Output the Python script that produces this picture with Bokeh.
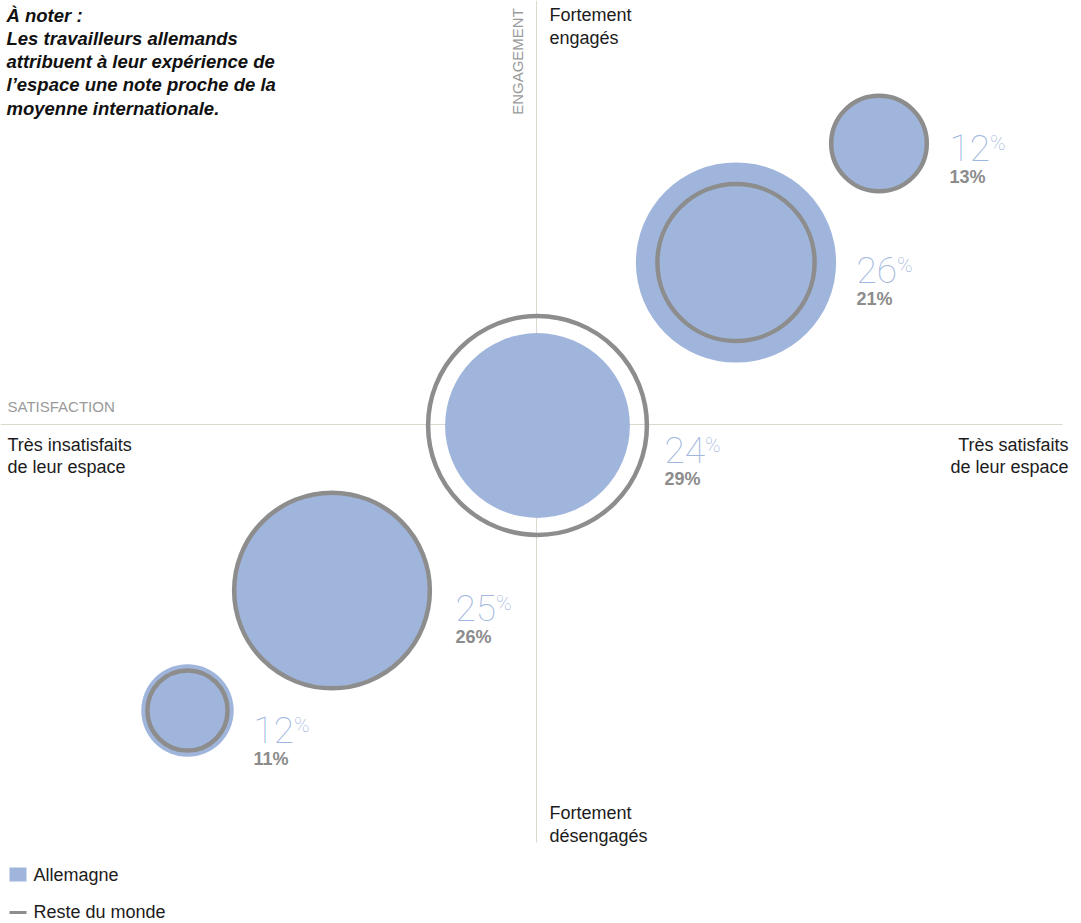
from bokeh.plotting import figure
from bokeh.models import Range1d
from bokeh.embed import file_html
from bokeh.resources import INLINE
from bokeh.core.properties import value

# ---------------- data ----------------
# position of each group on the two axes (satisfaction -> x, engagement -> y)
satisfaction = [-3.49, -2.045, 0.01, 1.995, 3.425]
engagement = [-2.86, -1.66, -0.01, 1.62, 2.81]
allemagne = [12, 25, 24, 26, 12]          # % Allemagne (filled bubble)
reste_du_monde = [11, 26, 29, 21, 13]     # % Reste du monde (grey ring)
series = ["Allemagne", "Reste du monde"]
axis_names = ["SATISFACTION", "ENGAGEMENT"]
sat_poles = ["Très insatisfaits\nde leur espace", "Très satisfaits\nde leur espace"]
eng_poles = ["Fortement\ndésengagés", "Fortement\nengagés"]
note = ["À noter :", "Les travailleurs allemands", "attribuent à leur expérience de",
        "l’espace une note proche de la", "moyenne internationale."]

# ---------------- layout / style ----------------
W, H = 1081, 923
PX = 100.0                 # pixels per data unit
OX, OY = 536, 424          # axis crossing (px from top-left)


def sx(px):  # page x (px) -> data x
    return (px - OX) / PX


def sy(py):  # page y (px) -> data y
    return (OY - py) / PX


K = 3.85 / PX              # bubble radius per percentage point
RING_W = 4.5
BIG = 37                   # big number font size
SUP = 21                   # superscript % size
BLUE = "#a0b5db"
BLUE_TXT = "#9fb6e0"
RING = "#8d8d8d"
GREY_TXT = "#8c8c8c"
LINE = "#d9d9d0"
DARK = "#1c1c1c"
AXIS_TXT = "#9a9a9a"
SANS = "Liberation Sans"
LIGHT = "Roboto Thin"

p = figure(width=W, height=H, x_range=Range1d(-OX / PX, (W - OX) / PX),
           y_range=Range1d(-(H - OY) / PX, OY / PX),
           output_backend="svg", toolbar_location=None, min_border=0,
           x_axis_location=None, y_axis_location=None,
           outline_line_color=None, background_fill_color="white",
           border_fill_color="white")
p.grid.visible = False


def txt(x, y, s, size, color, align="left", style="normal", font=SANS, angle=0.0):
    p.text(x=[x], y=[y], text=[s], text_font=value(font),
           text_font_size=f"{size}px", text_color=color, text_align=align,
           text_baseline="middle", text_font_style=style, angle=angle)


# axis lines
p.segment(x0=[0, sx(0)], y0=[sy(0), 0], x1=[0, sx(1062)], y1=[sy(842), 0],
          line_color=LINE, line_width=1)

# bubbles
r_de = [v * K for v in allemagne]
r_rm = [v * K - RING_W / 2 / PX for v in reste_du_monde]
p.circle(x=satisfaction, y=engagement, radius=r_de, fill_color=BLUE,
         line_color=None)
p.circle(x=satisfaction, y=engagement, radius=r_rm, fill_color=None,
         line_color=RING, line_width=RING_W)

# value labels (offsets from bubble centre, px)
lab_dx = [66, 123.5, 127, 120.5, 70.5]
lab_dy = [32, 30, 37, 20, 17]
lx = [x + d / PX for x, d in zip(satisfaction, lab_dx)]
big_txt = [str(v) for v in allemagne]
big_y = [y - (d - 12.5) / PX for y, d in zip(engagement, lab_dy)]
pct_x = [x + (len(t) * 0.5615 * BIG - 1) / PX for x, t in zip(lx, big_txt)]
pct_y = [y - (d - 18) / PX for y, d in zip(engagement, lab_dy)]
grey_txt = [f"{v}%" for v in reste_du_monde]
grey_y = [y - (d + 16) / PX for y, d in zip(engagement, lab_dy)]

p.text(x=lx, y=big_y, text=big_txt, text_font=value(LIGHT),
       text_font_size=f"{BIG}px", text_color=BLUE_TXT, text_baseline="middle")
p.text(x=pct_x, y=pct_y, text=["%"] * len(lx), text_font=value(LIGHT),
       text_font_size=f"{SUP}px", text_color=BLUE_TXT, text_baseline="middle")
p.text(x=lx, y=grey_y, text=grey_txt, text_font=value(SANS),
       text_font_size="18px", text_font_style="bold", text_color=GREY_TXT,
       text_baseline="middle")

# axis names
txt(sx(7), sy(405.5), axis_names[0], 15, AXIS_TXT)
txt(sx(517), sy(61), axis_names[1], 15, AXIS_TXT, align="center",
    angle=1.5707963)

# poles
for i, line in enumerate(sat_poles[0].split("\n")):
    txt(sx(7), sy(444 + 22 * i), line, 18, DARK)
for i, line in enumerate(sat_poles[1].split("\n")):
    txt(sx(1068), sy(444 + 22 * i), line, 18, DARK, align="right")
for i, line in enumerate(eng_poles[1].split("\n")):
    txt(sx(549), sy(14 + 23 * i), line, 18, DARK)
for i, line in enumerate(eng_poles[0].split("\n")):
    txt(sx(549), sy(812 + 23 * i), line, 18, DARK)

# note
for i, line in enumerate(note):
    txt(sx(6), sy(14.5 + 23.3 * i), line, 18.5, "#111111", style="bold italic")

# legend
p.quad(left=[sx(9)], right=[sx(26)], top=[sy(867)], bottom=[sy(881)],
       fill_color=BLUE, line_color=None)
p.quad(left=[sx(9)], right=[sx(26)], top=[sy(910.5)], bottom=[sy(913.5)],
       fill_color=RING, line_color=None)
txt(sx(33), sy(874), series[0], 18, DARK)
txt(sx(33), sy(911.5), series[1], 18, DARK)

open("out.html", "w").write(file_html(p, INLINE))
